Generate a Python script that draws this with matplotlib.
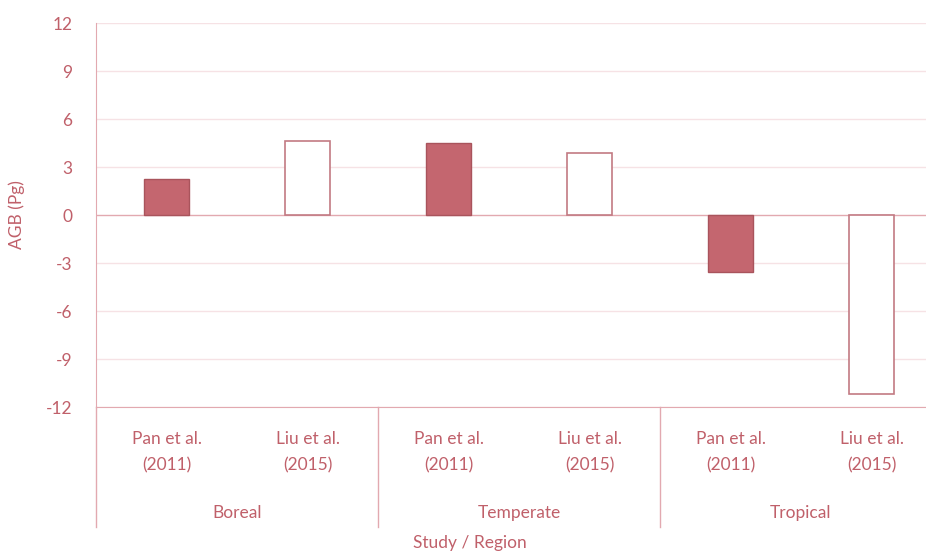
import matplotlib.pyplot as plt
from matplotlib.transforms import blended_transform_factory

plt.rcParams['font.family'] = ['Lato', 'DejaVu Sans']

studies = ["Pan et al.\n(2011)", "Liu et al.\n(2015)"] * 3
regions = ["Boreal", "Temperate", "Tropical"]
agb = [2.25, 4.6, 4.5, 3.9, -3.55, -11.2]
filled = [True, False, True, False, True, False]
yticks = [-12, -9, -6, -3, 0, 3, 6, 9, 12]

text_col = '#c0606a'
bar_col = '#c4666f'
edge_dark = '#a9545c'
edge_open = '#c27a83'
grid_col = '#f6e2e5'
line_col = '#e2a9b0'


def main():
    fig = plt.figure(figsize=(9.26, 5.54), dpi=100)
    # axes runs a bit past the right edge like the original crop
    ax = fig.add_axes([96 / 926, 1 - 407 / 554, 846 / 926, 384 / 554])

    x = list(range(len(agb)))
    for xi, v, f in zip(x, agb, filled):
        if f:
            ax.bar(xi, v, width=0.32, color=bar_col, edgecolor=edge_dark, linewidth=1.0, zorder=3)
        else:
            ax.bar(xi, v, width=0.32, color='white', edgecolor=edge_open, linewidth=1.2, zorder=3)

    ax.set_xlim(-0.5, 5.5)
    ax.set_ylim(-12, 12)
    ax.set_yticks(yticks)
    ax.set_yticklabels([str(t) for t in yticks])
    ax.tick_params(axis='y', length=0, pad=17, labelsize=12.5, labelcolor=text_col)
    ax.set_xticks([])
    for t in yticks:
        if t != 0:
            ax.axhline(t, color=grid_col, lw=1.0, zorder=1)
    ax.axhline(0, color=line_col, lw=1.0, zorder=2)

    for s in ['top', 'right']:
        ax.spines[s].set_visible(False)
    ax.spines['left'].set_color(line_col)
    ax.spines['bottom'].set_color(line_col)

    ax.set_ylabel("AGB (Pg)", color=text_col, fontsize=12.5)
    ax.yaxis.set_label_coords(-0.084, 0.5)

    trans = blended_transform_factory(ax.transData, ax.transAxes)
    for xi, lab in zip(x, studies):
        ax.text(xi, -0.118, lab, transform=trans, ha='center', va='center',
                color=text_col, fontsize=12.5, linespacing=1.75)
    for i, reg in enumerate(regions):
        ax.text(2 * i + 0.5, -0.276, reg, transform=trans, ha='center', va='center',
                color=text_col, fontsize=12.5)
    for sx in [-0.5, 1.5, 3.5]:
        ax.plot([sx, sx], [0, -0.3125], transform=trans, color=line_col, lw=1.0, clip_on=False)

    ax.text((470 - 96) / 846, -0.354, "Study / Region", transform=ax.transAxes,
            ha='center', va='center', color=text_col, fontsize=12.5)

    fig.savefig("out.png", dpi=100)


if __name__ == "__main__":
    main()
